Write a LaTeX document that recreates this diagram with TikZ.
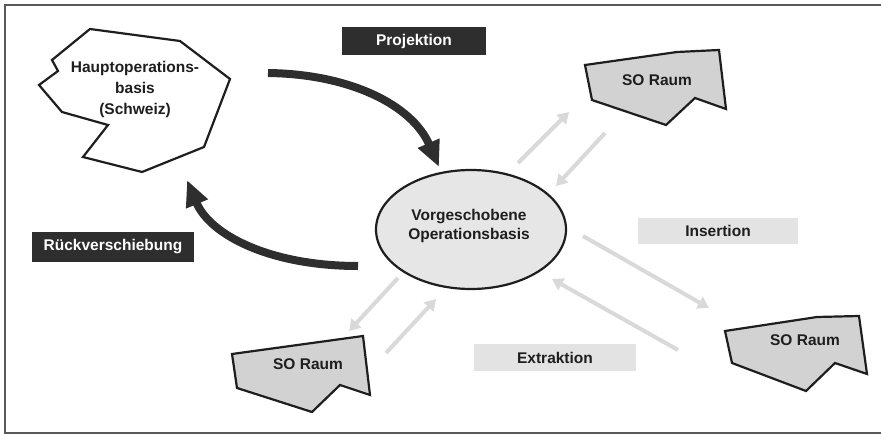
\documentclass[tikz,border=0pt]{standalone}
\usepackage{fontspec}
\setmainfont{Liberation Sans}
\usetikzlibrary{arrows.meta,shapes.geometric}
\definecolor{darkfill}{HTML}{2E2E2E}
\definecolor{sofill}{HTML}{D2D2D2}
\definecolor{ellfill}{HTML}{E6E6E6}
\definecolor{lightarr}{HTML}{D9D9D9}
\definecolor{lightbox}{HTML}{E3E3E3}
\definecolor{inkc}{HTML}{1E1E1E}
\begin{document}
\begin{tikzpicture}[x=1pt,y=-1pt,
  lbl/.style={font=\fontsize{15.5}{21}\selectfont\bfseries, text=inkc, align=center},
  darkbox/.style={lbl, fill=darkfill, text=white, inner sep=0pt},
  lightlbl/.style={lbl, fill=lightbox, inner sep=0pt},
  shapeline/.style={draw=inkc, line width=2.2pt, line join=miter},
  soshape/.style={shapeline, fill=sofill},
  bigarrow/.style={draw=darkfill, line width=8pt, -{Triangle[length=26pt,width=22pt]}},
  smallarrow/.style={draw=lightarr, line width=4pt, -{Triangle[length=11pt,width=13pt]}}]
\useasboundingbox (0,0) rectangle (881,436);
% frame
\draw[black!65, line width=1.4pt] (881,5) -- (5,5) -- (5,433) -- (881,433);

% main base
\draw[shapeline, fill=white] (90,29) -- (180,41) -- (230,79) -- (204,147) -- (142,172) -- (83,157)
  -- (108,125) -- (62,112) -- (39,85) -- (58,71) -- (52,60) -- cycle;
\node[lbl] (haupt) at (135,89) {Hauptoperations-\\basis\\(Schweiz)};

% forward base
\node[ellipse, draw=inkc, line width=2.2pt, fill=ellfill, minimum width=190pt, minimum height=119pt] (vob) at (471,229.5) {};
\node[lbl, font=\fontsize{15.5}{19}\selectfont\bfseries] (vobt) at (469,226) {Vorgeschobene\\Operationsbasis};

% SO spaces
\draw[soshape] (585,65) -- (677,52) -- (719,50) -- (726,109) -- (695,98) -- (666,125) -- (592,100) -- cycle;
\node[lbl] (so1) at (657,80) {SO Raum};
\draw[soshape] (232,354) -- (363,336) -- (370,395) -- (340,385) -- (312,412) -- (237,388) -- cycle;
\node[lbl] (so2) at (308,364) {SO Raum};
\draw[soshape] (725,331) -- (817,317) -- (859,316) -- (867,374) -- (835,363) -- (806,391) -- (732,363) -- cycle;
\node[lbl] (so3) at (805,340) {SO Raum};

% labels
\node[darkbox, minimum width=144pt, minimum height=28pt] (proj) at (414,41) {Projektion};
\node[darkbox, minimum width=162pt, minimum height=30pt] (rueck) at (113,247) {Rückverschiebung};
\node[lightlbl, minimum width=160pt, minimum height=26pt] (ins) at (718,231) {Insertion};
\node[lightlbl, minimum width=162pt, minimum height=27pt] (ext) at (555,357.5) {Extraktion};

% arrow end points
\coordinate (pA) at (268,73);  \coordinate (pB) at (439,167);
\coordinate (rA) at (358,266); \coordinate (rB) at (187,180);
\coordinate (a1s) at (518,163); \coordinate (a1e) at (569,112);
\coordinate (a2s) at (605,133); \coordinate (a2e) at (556,186);
\coordinate (b1s) at (398,278); \coordinate (b1e) at (349,331);
\coordinate (b2s) at (386,353); \coordinate (b2e) at (436,299);
\coordinate (is) at (583,236);  \coordinate (ie) at (709,308);
\coordinate (es) at (678,350);  \coordinate (ee) at (552,279);

% big arrows
\draw[bigarrow] (pA) .. controls (350,74) and (412,105) .. (pB);
\draw[bigarrow] (rA) .. controls (270,266) and (210,235) .. (rB);

% light arrows
\draw[smallarrow] (a1s) -- (a1e);
\draw[smallarrow] (a2s) -- (a2e);
\draw[smallarrow] (b1s) -- (b1e);
\draw[smallarrow] (b2s) -- (b2e);
\draw[smallarrow] (is) -- (ie);
\draw[smallarrow] (es) -- (ee);
\end{tikzpicture}
\end{document}
